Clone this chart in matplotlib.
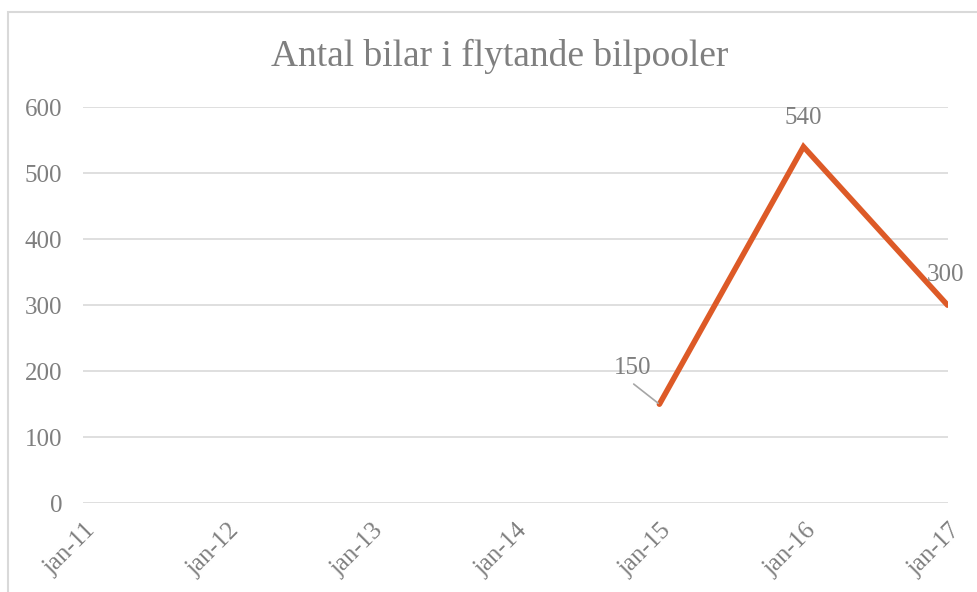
import matplotlib.pyplot as plt
import matplotlib.transforms as mtransforms
import numpy as np
from matplotlib.patches import Rectangle

plt.rcParams['font.family'] = ['Liberation Serif', 'DejaVu Serif']

months = ["jan-11", "jan-12", "jan-13", "jan-14", "jan-15", "jan-16", "jan-17"]
cars = [np.nan, np.nan, np.nan, np.nan, 150, 540, 300]
title = "Antal bilar i flytande bilpooler"

txt = "#7f7f7f"
orange = "#DD5A27"

fig = plt.figure(figsize=(9.78, 5.92), dpi=100)
ax = fig.add_axes([0.0849, 0.150, 0.884, 0.669])

x = np.arange(len(months))
ax.plot(x, cars, color=orange, linewidth=4, solid_capstyle='round', solid_joinstyle='miter')

ax.set_xlim(0, len(months) - 1)
ax.set_ylim(0, 600)
ax.set_yticks(np.arange(0, 700, 100))
ax.set_xticks(x)
ax.set_xticklabels(months)
ax.grid(axis='y', color='#d9d9d9', linewidth=1.2)
ax.set_axisbelow(True)
for s in ax.spines.values():
    s.set_visible(False)
ax.tick_params(axis='both', length=0, colors=txt, labelsize=18)
ax.tick_params(axis='y', pad=15)
ax.tick_params(axis='x', pad=17)
shift = mtransforms.ScaledTranslation(9 / 100, 0, fig.dpi_scale_trans)
for lab in ax.get_xticklabels():
    lab.set_rotation(45)
    lab.set_ha('right')
    lab.set_va('center')
    lab.set_rotation_mode('anchor')
    lab.set_transform(lab.get_transform() + shift)

# data labels
ax.annotate("150", xy=(4, 150), xytext=(-19, 26), textcoords='offset points',
            ha='center', va='center', color=txt, fontsize=18)
ax.annotate("", xy=(4, 150), xytext=(-18.5, 14.5), textcoords='offset points',
            arrowprops=dict(arrowstyle='-', color='#a6a6a6', lw=1.2, shrinkA=0, shrinkB=1))
ax.annotate("540", xy=(5, 540), xytext=(0, 20.5), textcoords='offset points',
            ha='center', va='center', color=txt, fontsize=18)
ax.annotate("300", xy=(6, 300), xytext=(-1.5, 22), textcoords='offset points',
            ha='center', va='center', color=txt, fontsize=18)

fig.text(0.5105, 0.904, title, ha='center', va='center', color=txt, fontsize=27)

fig.patches.append(Rectangle((8 / 978, -0.1), 1.2, 1 - 12 / 592 + 0.1, transform=fig.transFigure,
                             fill=False, edgecolor='#d9d9d9', linewidth=1.5))

fig.savefig("out.png", dpi=100)
